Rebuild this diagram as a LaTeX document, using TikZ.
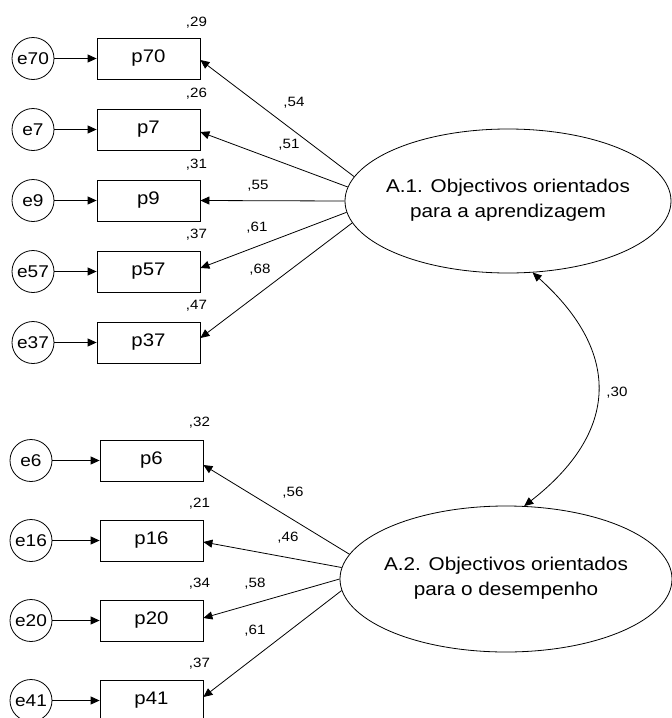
\documentclass[tikz,border=0pt]{standalone}
\usepackage{fontspec}
\setmainfont[FakeStretch=1.12]{Liberation Sans}
\usetikzlibrary{arrows.meta,shapes.geometric,calc}

\begin{document}
\begin{tikzpicture}[x=1pt,y=-1pt,
  obs/.style={draw, line width=0.8pt, minimum width=103pt, minimum height=41pt,
    inner sep=0pt, font=\fontsize{18.2}{20}\selectfont},
  err/.style={draw, circle, line width=0.8pt, minimum size=42pt, inner sep=0pt,
    font=\fontsize{17}{19}\selectfont},
  lat/.style={draw, ellipse, line width=0.8pt, inner sep=0pt},
  lattext/.style={align=center, inner sep=0pt, font=\fontsize{18.5}{25}\selectfont},
  coef/.style={inner sep=0pt, font=\fontsize{13.5}{15}\selectfont},
  tip/.style={-{Triangle[length=9pt,width=8pt]}},
  load/.style={line width=0.8pt, tip},
  cov/.style={line width=0.8pt, {Triangle[length=9pt,width=8pt]}-{Triangle[length=9pt,width=8pt]}},
]
\useasboundingbox (0,0) rectangle (672,718);

% latent factors
\node[lat, minimum width=326pt, minimum height=144pt] (A1) at (508,201) {};
\node[lattext] (A1t) at (508,200) {A.1. Objectivos orientados\\para a aprendizagem};
\node[lat, minimum width=332pt, minimum height=146pt] (A2) at (506,579) {};
\node[lattext] (A2t) at (506,578) {A.2. Objectivos orientados\\para o desempenho};

% items of the first factor
\foreach \n/\y in {70/58.5, 7/129.5, 9/200.5, 57/271.5, 37/342.5} {
  \node[obs] (p\n) at (148.5,\y) {p\n};
  \node[err] (e\n) at (33,\y) {e\n};
  \draw[load] (e\n) -- (p\n);
}
% items of the second factor
\foreach \n/\y in {6/460.5, 16/540.5, 20/620.5, 41/700.5} {
  \node[obs] (p\n) at (151.5,\y) {p\n};
  \node[err] (e\n) at (31,\y) {e\n};
  \draw[load] (e\n) -- (p\n);
}

% squared multiple correlations
\node[coef] (r70) at (196.5,23) {,29};
\node[coef] (r7)  at (196.5,94) {,26};
\node[coef] (r9)  at (196.5,165) {,31};
\node[coef] (r57) at (196.5,235) {,37};
\node[coef] (r37) at (196.5,306) {,47};
\node[coef] (r6)  at (199.5,423) {,32};
\node[coef] (r16) at (199.5,504) {,21};
\node[coef] (r20) at (199.5,584) {,34};
\node[coef] (r41) at (199.5,664) {,37};

% loadings of the first factor
\draw[load] (A1.171) -- ($(p70.east)+(0,1.5)$);
\draw[load] (A1.175) -- ($(p7.east)+(0,2.5)$);
\draw[load] (A1.180) -- (p9.east);
\draw[load] (A1.184) -- ($(p57.east)+(0,-3.5)$);
\draw[load] (A1.188) -- ($(p37.east)+(0,-4.5)$);
\node[coef] (l70) at (294,103) {,54};
\node[coef] (l7)  at (289,145) {,51};
\node[coef] (l9)  at (258,186) {,55};
\node[coef] (l57) at (257,228) {,61};
\node[coef] (l37) at (260,270) {,68};

% loadings of the second factor
\draw[load] (A2.171) -- ($(p6.east)+(0,4.5)$);
\draw[load] (A2.176) -- ($(p16.east)+(0,1.5)$);
\draw[load] (A2.180) -- ($(p20.east)+(0,-2.5)$);
\draw[load] (A2.184) -- ($(p41.east)+(0,-3.5)$);
\node[coef] (l6)  at (293,493) {,56};
\node[coef] (l16) at (288,538) {,46};
\node[coef] (l20) at (255,584) {,58};
\node[coef] (l41) at (255,631) {,61};

% factor covariance
\draw[cov] (A1.-71) .. controls +(89,80) and +(95,-74) .. (A2.76);
\node[coef] (c12) at (617,393) {,30};
\end{tikzpicture}
\end{document}
